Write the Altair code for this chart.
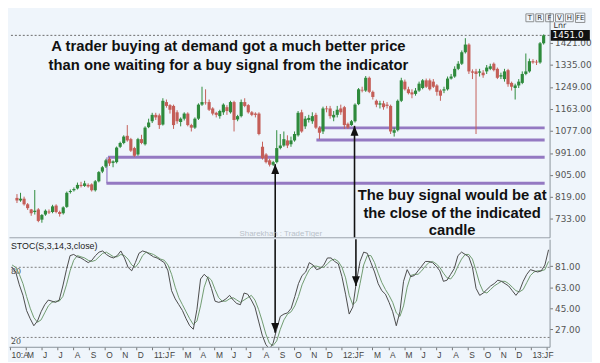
import altair as alt
import pandas as pd

# ---------------- data ----------------
week_start = "2010-04-05"   # weekly candles

opens = [815, 805, 812, 790, 770, 760, 770, 730, 750, 762,
         760, 785, 760, 755, 780, 838, 845, 852, 866, 862,
         866, 868, 845, 880, 918, 938, 968, 952, 955, 1015,
         1030, 1058, 1045, 1010, 985, 1045, 1025, 1092, 1115, 1140,
         1138, 1102, 1190, 1178, 1175, 1150, 1112, 1125, 1145, 1100,
         1090, 1125, 1180, 1188, 1190, 1165, 1148, 1135, 1150, 1170,
         1150, 1190, 1122, 1135, 1190, 1178, 1150, 1145, 1145, 1015,
         985, 962, 945, 955, 1010, 1020, 1040, 1025, 1040, 1060,
         1150, 1095, 1120, 1115, 1140, 1090, 1075, 1165, 1165, 1130,
         1140, 1165, 1170, 1105, 1100, 1115, 1182, 1238, 1235, 1285,
         1230, 1195, 1180, 1185, 1180, 1175, 1070, 1080, 1195, 1270,
         1240, 1228, 1222, 1235, 1245, 1275, 1275, 1270, 1255, 1235,
         1235, 1240, 1282, 1290, 1320, 1340, 1385, 1415, 1310, 1310,
         1305, 1305, 1310, 1320, 1340, 1320, 1290, 1280, 1315, 1265,
         1245, 1255, 1265, 1300, 1310, 1350, 1348, 1345, 1420]
highs = [830, 835, 820, 795, 772, 846, 775, 752, 770, 770,
         788, 790, 765, 782, 840, 848, 856, 875, 878, 882,
         872, 872, 885, 920, 940, 968, 975, 962, 1016, 1035,
         1060, 1100, 1050, 1015, 1050, 1062, 1095, 1125, 1148, 1148,
         1145, 1205, 1200, 1182, 1180, 1158, 1130, 1150, 1150, 1105,
         1130, 1185, 1250, 1240, 1200, 1170, 1152, 1160, 1185, 1178,
         1195, 1195, 1140, 1200, 1205, 1182, 1155, 1150, 1150, 1035,
         990, 968, 960, 1080, 1065, 1075, 1060, 1055, 1075, 1155,
         1160, 1135, 1140, 1150, 1148, 1095, 1172, 1175, 1175, 1155,
         1175, 1180, 1175, 1110, 1120, 1185, 1245, 1250, 1292, 1290,
         1235, 1200, 1195, 1195, 1190, 1180, 1090, 1200, 1285, 1278,
         1250, 1240, 1245, 1270, 1280, 1282, 1282, 1280, 1260, 1240,
         1250, 1290, 1300, 1330, 1350, 1392, 1440, 1420, 1318, 1320,
         1320, 1315, 1335, 1340, 1345, 1325, 1305, 1320, 1320, 1270,
         1262, 1280, 1310, 1380, 1360, 1358, 1355, 1425, 1455]
lows = [795, 800, 785, 768, 745, 750, 720, 718, 745, 752,
        755, 755, 742, 750, 776, 832, 840, 848, 856, 858,
        855, 840, 840, 876, 912, 932, 940, 935, 950, 1010,
        1025, 1035, 995, 975, 980, 1025, 1020, 1088, 1108, 1120,
        1085, 1098, 1168, 1145, 1085, 1105, 1095, 1118, 1095, 1075,
        1085, 1120, 1175, 1180, 1155, 1138, 1130, 1125, 1140, 1140,
        1145, 1075, 1115, 1130, 1170, 1145, 1135, 1130, 1060, 965,
        950, 938, 940, 950, 1005, 1015, 1010, 1015, 1035, 1055,
        1070, 1085, 1110, 1105, 1085, 1045, 1065, 1150, 1125, 1115,
        1130, 1140, 1085, 1085, 1097, 1110, 1178, 1228, 1230, 1225,
        1200, 1170, 1165, 1160, 1165, 1065, 1055, 1075, 1190, 1235,
        1220, 1205, 1215, 1230, 1240, 1245, 1235, 1245, 1215, 1195,
        1225, 1235, 1278, 1285, 1315, 1335, 1380, 1300, 1280, 1065,
        1290, 1285, 1300, 1315, 1310, 1280, 1280, 1270, 1250, 1235,
        1200, 1245, 1260, 1295, 1305, 1340, 1335, 1340, 1415]
closes = [805, 812, 790, 775, 755, 765, 725, 748, 765, 758,
          782, 760, 752, 778, 835, 842, 850, 866, 862, 872,
          860, 845, 880, 916, 935, 962, 950, 958, 1012, 1030,
          1055, 1040, 1000, 980, 1045, 1030, 1090, 1110, 1140, 1130,
          1100, 1195, 1175, 1160, 1100, 1115, 1125, 1145, 1100, 1090,
          1125, 1180, 1190, 1186, 1160, 1145, 1140, 1155, 1180, 1155,
          1190, 1120, 1135, 1190, 1175, 1150, 1140, 1140, 1065, 970,
          955, 945, 955, 1010, 1020, 1045, 1020, 1040, 1065, 1148,
          1075, 1125, 1128, 1135, 1090, 1070, 1165, 1162, 1135, 1140,
          1160, 1150, 1100, 1090, 1115, 1180, 1240, 1235, 1285, 1230,
          1210, 1180, 1185, 1170, 1175, 1075, 1080, 1195, 1275, 1240,
          1225, 1220, 1235, 1262, 1275, 1250, 1240, 1250, 1230, 1215,
          1240, 1282, 1290, 1320, 1340, 1385, 1415, 1310, 1305, 1300,
          1310, 1295, 1325, 1330, 1315, 1285, 1295, 1310, 1260, 1250,
          1255, 1270, 1300, 1310, 1350, 1345, 1345, 1420, 1451]

stoch_k = [80, 76, 65, 56, 43, 36, 30, 34, 42, 48,
           52, 51, 50, 52, 64, 78, 90, 91, 89, 88,
           86, 84, 86, 90, 93, 94, 91, 89, 88, 90,
           94, 88, 80, 77, 84, 92, 94, 93, 91, 89,
           88, 86, 84, 77, 60, 53, 48, 43, 36, 30,
           27, 44, 70, 74, 71, 62, 51, 50, 51, 53,
           56, 52, 49, 48, 58, 57, 52, 46, 34, 22,
           14, 10, 15, 27, 38, 40, 41, 45, 55, 66,
           73, 76, 84, 82, 78, 79, 82, 88, 88, 85,
           83, 72, 57, 40, 46, 68, 85, 93, 92, 84,
           76, 66, 60, 57, 50, 42, 30, 42, 68, 78,
           72, 73, 77, 81, 85, 85, 84, 81, 77, 68,
           69, 74, 79, 90, 93, 91, 89, 80, 62, 56,
           58, 61, 64, 66, 69, 68, 66, 64, 60, 56,
           60, 68, 74, 78, 77, 76, 77, 82, 95]
stoch_d = [82, 80, 74, 66, 55, 45, 37, 33, 35, 41,
           47, 50, 51, 51, 55, 65, 77, 86, 90, 89,
           88, 86, 85, 86, 89, 92, 93, 91, 89, 89,
           91, 90, 87, 82, 80, 84, 90, 93, 92, 91,
           89, 87, 86, 82, 74, 63, 54, 48, 42, 36,
           31, 34, 47, 63, 72, 69, 61, 54, 51, 51,
           53, 54, 52, 50, 52, 54, 56, 52, 44, 34,
           23, 15, 13, 17, 27, 35, 40, 42, 47, 55,
           65, 72, 78, 81, 81, 80, 80, 83, 86, 87,
           85, 80, 71, 56, 48, 51, 66, 82, 90, 90,
           84, 75, 67, 61, 56, 50, 41, 38, 47, 63,
           73, 74, 74, 77, 81, 84, 85, 83, 80, 75,
           71, 70, 74, 81, 87, 91, 91, 87, 77, 66,
           59, 58, 61, 64, 66, 68, 68, 66, 63, 60,
           59, 61, 67, 73, 76, 77, 77, 78, 85]

zone_prices = [974, 872, 1089, 1042]
zone_starts = ["2010-10-01", "2010-09-28", "2011-11-20", "2011-11-15"]
box_edge_date = "2010-09-29"
arrow_dates = ["2011-08-26", "2012-01-29"]
arrow_price_tips = [947, 1097]
arrow_stoch_tips = [24, 64]
price_ticks = [733, 819, 905, 991, 1077, 1163, 1249, 1335, 1421]
stoch_ticks = [27, 45, 63, 81]
stoch_levels = [80, 20]
last_price = 1451

title_lines = ["A trader buying at demand got a much better price",
               "than one waiting for a buy signal from the indicator"]
title_prices = [1411, 1334]
title_date = "2011-05-26"
note_lines = ["The buy signal would be at", "the close of the indicated", "candle"]
note_prices = [826, 757, 691]
note_date = "2012-08-08"
watermark = "Sharekhan : TradeTiger"
watermark_date = "2011-09-06"
watermark_price = 673
stoch_title = "STOC(S,3,14,3,close)"
button_labels = ["T", "R", "F", "V", "H", "FE"]

# ---------------- styling ----------------
W = 548
PH = 228
SH = 109
BG = "#eff5fb"
GREEN = "#2e8a3c"
RED = "#c45e58"
PURPLE = "#9479c2"
AXIS_FONT = "DejaVu Sans"
X_END = "2013-02-06"

dates = pd.date_range(week_start, periods=len(opens), freq="7D").strftime("%Y-%m-%d")
df = pd.DataFrame({"date": dates, "o": opens, "h": highs, "l": lows, "c": closes,
                   "k": stoch_k, "d": stoch_d})

xs = alt.Scale(type="utc", domain=[alt.DateTime(year=2010, month=3, date=30, utc=True),
                                   alt.DateTime(year=2013, month=2, date=6, utc=True)])
ys_price = alt.Scale(domain=[661, 1541], nice=False, zero=False)
ys_stoch = alt.Scale(domain=[12, 104], nice=False, zero=False)

price_x_axis = alt.Axis(labels=False, ticks=False, grid=False, title=None,
                        domainColor="#9aa3ab")
price_y_axis = alt.Axis(orient="right", values=price_ticks, format=".2f", grid=False,
                        title=None, labelFont=AXIS_FONT, labelFontSize=9, labelColor="#555",
                        tickSize=3, tickColor="#777", labelPadding=2, domainColor="#8a939b",
                        labelFlush=False, labelOverlap=False)
month_ticks = [alt.DateTime(year=t.year, month=t.month, date=1, utc=True)
               for t in pd.date_range("2010-04-01", "2013-02-01", freq="MS")]
label_expr = ("(utcmonth(datum.value)==0 || (utcyear(datum.value)==2010 && utcmonth(datum.value)==3))"
              " ? utcFormat(datum.value, '%y') + ':' + substring(utcFormat(datum.value, '%b'), 0, 1)"
              " : substring(utcFormat(datum.value, '%b'), 0, 1)")
stoch_x_axis = alt.Axis(values=month_ticks, labelExpr=label_expr, labelAlign="left",
                        labelOffset=1, labelOverlap=False, labelFlush=False, grid=False,
                        title=None, tickSize=3, tickColor="#777", labelPadding=1,
                        labelFont="Liberation Sans", labelFontSize=8.5, labelColor="#444",
                        domainColor="#8a939b")
stoch_y_axis = alt.Axis(orient="right", values=stoch_ticks, format=".2f", grid=False,
                        title=None, labelFont=AXIS_FONT, labelFontSize=9, labelColor="#555",
                        tickSize=3, tickColor="#777", labelPadding=2, domainColor="#8a939b",
                        labelFlush=False, labelOverlap=False)


def px(field="date"):
    return alt.X(f"{field}:T", scale=xs, axis=price_x_axis, title=None)


def py(field):
    return alt.Y(f"{field}:Q", scale=ys_price, axis=price_y_axis, title=None)


def sx(field="date"):
    return alt.X(f"{field}:T", scale=xs, axis=stoch_x_axis, title=None)


def sy(field):
    return alt.Y(f"{field}:Q", scale=ys_stoch, axis=stoch_y_axis, title=None)


updown = alt.condition("datum.c >= datum.o", alt.value(GREEN), alt.value(RED))

# ---------------- price panel ----------------
zones = pd.DataFrame({"date": zone_starts, "end": [X_END] * len(zone_starts), "p": zone_prices})
zone_layer = alt.Chart(zones).mark_rule(strokeWidth=3, color=PURPLE).encode(
    x=px(), x2="end:T", y=py("p"))
edge_layer = alt.Chart(pd.DataFrame({"date": [box_edge_date], "p": [zone_prices[0]],
                                     "p2": [zone_prices[1]]})).mark_rule(
    strokeWidth=1.2, color=PURPLE).encode(x=px(), y=py("p"), y2="p2:Q")

last_df = pd.DataFrame({"p": [last_price], "t": [f"{last_price:.1f}"]})
last_line = alt.Chart(last_df).mark_rule(color="#6b6b6b", strokeDash=[2, 2], strokeWidth=1).encode(
    y=py("p"))

wick_layer = alt.Chart(df).mark_rule(strokeWidth=1).encode(
    x=px(), y=py("l"), y2="h:Q", color=updown)
body_layer = alt.Chart(df).mark_bar(size=3.2).encode(
    x=px(), y=py("o"), y2="c:Q", color=updown)

arrows_p = pd.DataFrame({"date": arrow_dates, "tip": arrow_price_tips})
arrow_line_p = alt.Chart(arrows_p).mark_rule(color="#111", strokeWidth=1.6).encode(
    x=px(), y=py("tip"), y2=alt.value(PH))
arrow_head_p = alt.Chart(arrows_p).mark_point(
    shape="M0,0L-0.8,2L0.8,2Z", filled=True, size=100, color="#111", opacity=1,
    strokeWidth=0).encode(x=px(), y=py("tip"))

title_df = pd.DataFrame({"date": [title_date] * 2, "p": title_prices, "t": title_lines})
title_layer = alt.Chart(title_df).mark_text(
    font="Liberation Sans", fontSize=15, fontWeight="bold", color="#111",
    align="center", baseline="middle").encode(x=px(), y=py("p"), text="t:N")

note_df = pd.DataFrame({"date": [note_date] * 3, "p": note_prices, "t": note_lines})
note_layer = alt.Chart(note_df).mark_text(
    font="Liberation Sans", fontSize=15, fontWeight="bold", color="#111",
    align="center", baseline="middle").encode(x=px(), y=py("p"), text="t:N")

wm_layer = alt.Chart(pd.DataFrame({"date": [watermark_date], "p": [watermark_price],
                                   "t": [watermark]})).mark_text(
    font="Liberation Sans", fontSize=8, color="#b9c1c9", align="center",
    baseline="middle").encode(x=px(), y=py("p"), text="t:N")

box_layer = alt.Chart(last_df).mark_point(
    shape="M-3.6,-1L3.6,-1L3.6,1L-3.6,1Z", filled=True, size=121, color="#111",
    opacity=1, strokeWidth=0).encode(x=alt.value(W + 21), y=py("p"))
box_text = alt.Chart(last_df).mark_text(
    font=AXIS_FONT, fontSize=9, color="white", align="left", baseline="middle").encode(
    x=alt.value(W + 3), y=py("p"), text="t:N")
lnr_text = alt.Chart(pd.DataFrame({"t": ["Lnr"]})).mark_text(
    font=AXIS_FONT, fontSize=8, color="#333", align="left", baseline="middle").encode(
    x=alt.value(W + 4), y=alt.value(14), text="t:N")

button_layers = []
for i, lab in enumerate(button_labels):
    bdf = pd.DataFrame({"t": [lab]})
    cx = W - 20 + 10 * i + (1 if lab == "FE" else 0)
    button_layers.append(alt.Chart(bdf).mark_point(
        shape="square", size=64 if lab != "FE" else 90, color="#666", strokeWidth=1,
        filled=False).encode(x=alt.value(cx), y=alt.value(5.5)))
    button_layers.append(alt.Chart(bdf).mark_text(
        font=AXIS_FONT, fontSize=7, color="#333", align="center", baseline="middle").encode(
        x=alt.value(cx), y=alt.value(6), text="t:N"))

price_panel = alt.layer(
    last_line, zone_layer, edge_layer, wick_layer, body_layer, arrow_line_p, arrow_head_p,
    title_layer, note_layer, wm_layer, box_layer, box_text, lnr_text, *button_layers
).properties(width=W, height=PH)

# ---------------- stochastic panel ----------------
lev_df = pd.DataFrame({"v": stoch_levels, "t": [str(v) for v in stoch_levels]})
lev_lines = alt.Chart(lev_df).mark_rule(color="#7d7d7d", strokeDash=[2, 2], strokeWidth=1).encode(
    y=sy("v"))
lev_text = alt.Chart(lev_df).mark_text(
    font=AXIS_FONT, fontSize=8, color="#444", align="left", baseline="top", dy=1).encode(
    x=alt.value(2), y=sy("v"), text="t:N")
k_line = alt.Chart(df).mark_line(color="#4a4a4a", strokeWidth=1, clip=True).encode(
    x=sx(), y=sy("k"))
d_line = alt.Chart(df).mark_line(color="#6f9a6f", strokeWidth=1, clip=True).encode(
    x=sx(), y=sy("d"))
arrows_s = pd.DataFrame({"date": arrow_dates, "tip": arrow_stoch_tips})
arrow_line_s = alt.Chart(arrows_s).mark_rule(color="#111", strokeWidth=1.6).encode(
    x=sx(), y=sy("tip"), y2=alt.value(0))
arrow_head_s = alt.Chart(arrows_s).mark_point(
    shape="M0,0L-0.8,-2L0.8,-2Z", filled=True, size=100, color="#111", opacity=1,
    strokeWidth=0).encode(x=sx(), y=sy("tip"))
stoch_label = alt.Chart(pd.DataFrame({"t": [stoch_title]})).mark_text(
    font="Liberation Sans", fontSize=9, color="#222", align="left", baseline="middle").encode(
    x=alt.value(2), y=alt.value(7), text="t:N")

stoch_panel = alt.layer(
    lev_lines, lev_text, d_line, k_line, arrow_line_s, arrow_head_s, stoch_label
).properties(width=W, height=SH)

chart = alt.vconcat(price_panel, stoch_panel, spacing=0).resolve_scale(
    x="independent", y="independent").resolve_axis(x="independent", y="independent").properties(
    padding=0, background=BG).configure_view(stroke=None)

chart.save("out.html", embed_options={"renderer": "svg", "actions": False})
